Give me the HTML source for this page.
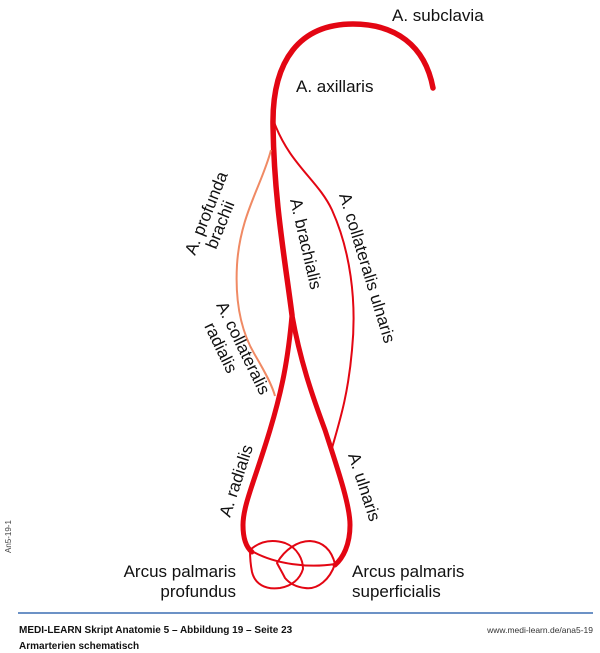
<!DOCTYPE html>
<html><head><meta charset="utf-8"><style>
html,body{margin:0;padding:0;background:#fff;}
body{width:600px;height:653px;position:relative;overflow:hidden;font-family:"Liberation Sans",sans-serif;}
svg{position:absolute;left:0;top:0;}
</style></head><body>
<svg width="600" height="653" viewBox="0 0 600 653" font-family="Liberation Sans, sans-serif" font-size="17" fill="#111">
<g fill="none" stroke="#e30613" stroke-linecap="round">
<path d="M433,88 C425,45 395,24 353,24 C300,24 272,60 273,125 C274,200 285,260 292,315" stroke-width="5.5"/>
<path d="M292,315 C288,360 282,390 270,430 C255,480 243,505 243,525 C243,540 247,548 252,552" stroke-width="5"/>
<path d="M292,315 C300,360 312,395 325,430 C338,470 350,505 350,525 C350,545 343,558 335,565" stroke-width="5"/>
<path d="M274,122 C290,165 318,180 332,210 C350,250 357,300 352,350 C348,395 340,420 332,448" stroke-width="2"/>
<g stroke-width="2">
<path d="M250,550 C260,541 272,539 285,543 C298,548 303,560 303,569 C300,579 292,586 280,588 C265,590 255,584 252,572 C250,562 250,555 250,550"/>
<path d="M250,550 C275,565 310,568 335,564"/>
<path d="M277,563 C285,549 298,541 310,541 C325,542 332,552 335,564 C330,579 318,590 305,588 C296,587 290,584 285,578 C282,572 279,567 277,563"/>
</g>
</g>
<path d="M271,150 C262,185 240,215 237,265 C235,300 240,330 255,355 C265,372 272,385 275,396" fill="none" stroke="#f08a64" stroke-width="2"/>
<text x="392" y="21">A. subclavia</text>
<text x="296" y="92">A. axillaris</text>
<text transform="translate(195,256) rotate(-68)">A. profunda</text>
<text transform="translate(216,250) rotate(-68)" x="0">brachii</text>
<text transform="translate(290,200) rotate(77)">A. brachialis</text>
<text transform="translate(339,195) rotate(73)">A. collateralis ulnaris</text>
<text transform="translate(216,305) rotate(64)">A. collateralis</text>
<text transform="translate(204,326) rotate(64)">radialis</text>
<text transform="translate(230,518) rotate(-72)">A. radialis</text>
<text transform="translate(348,455) rotate(72)">A. ulnaris</text>
<text x="236" y="577" text-anchor="end">Arcus palmaris</text>
<text x="236" y="597" text-anchor="end">profundus</text>
<text x="352" y="577">Arcus palmaris</text>
<text x="352" y="597">superficialis</text>
<text transform="translate(11,553) rotate(-90)" font-size="8" fill="#444">An5-19-1</text>
<line x1="18" y1="613" x2="593" y2="613" stroke="#3c6fb4" stroke-width="1.5"/>
<text x="19" y="633" font-size="10" font-weight="bold">MEDI-LEARN Skript Anatomie 5 – Abbildung 19 – Seite 23</text>
<text x="19" y="649" font-size="10" font-weight="bold">Armarterien schematisch</text>
<text x="593" y="633" font-size="8.5" text-anchor="end" fill="#333">www.medi-learn.de/ana5-19</text>
</svg>
</body></html>
